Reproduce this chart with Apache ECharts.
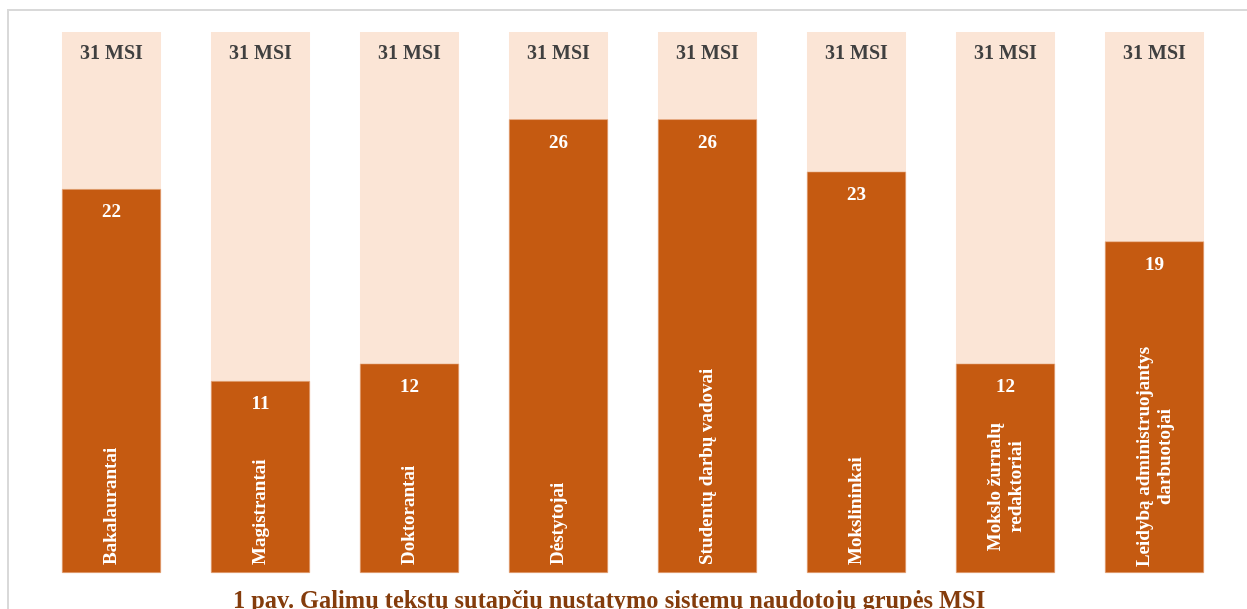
<!DOCTYPE html>
<html>
<head>
<meta charset="utf-8">
<script src="https://cdn.jsdelivr.net/npm/echarts@6/dist/echarts.min.js"></script>
<style>
  html, body { margin: 0; padding: 0; background: #ffffff; }
  #chart { width: 1247px; height: 609px; }
</style>
</head>
<body>
<div id="chart"></div>
<script>
const categories = [
  'Bakalaurantai',
  'Magistrantai',
  'Doktorantai',
  'Dėstytojai',
  'Studentų darbų vadovai',
  'Mokslininkai',
  'Mokslo žurnalų\nredaktoriai',
  'Leidybą administruojantys\ndarbuotojai'
];
const groupValues = [22, 11, 12, 26, 26, 23, 12, 19];
const totalMSI = [31, 31, 31, 31, 31, 31, 31, 31];
const titleText = '1 pav. Galimų tekstų sutapčių nustatymo sistemų naudotojų grupės MSI';

const serif = '"Liberation Serif", "DejaVu Serif", serif';

// label placement overrides for the two-line category names (centered lines)
const multiLineLabel = {
  6: { align: 'center', distance: 86 },
  7: { align: 'center', distance: 116 }
};

const chart = echarts.init(document.getElementById('chart'), null, { renderer: 'canvas' });

chart.setOption({
  animation: false,
  backgroundColor: '#ffffff',
  title: {
    text: titleText,
    left: 228,
    top: 585,
    textStyle: { fontFamily: serif, fontWeight: 'bold', fontSize: 24.4, color: '#843C0C' }
  },
  graphic: [{
    type: 'rect',
    z: -10,
    silent: true,
    shape: { x: 8, y: 10, width: 1300, height: 700 },
    style: { fill: 'none', stroke: '#d9d9d9', lineWidth: 2 }
  }],
  grid: { left: 37, right: 18, top: 32, bottom: 36 },
  xAxis: {
    type: 'category',
    data: categories,
    axisLine: { show: false },
    axisTick: { show: false },
    axisLabel: { show: false },
    splitLine: { show: false }
  },
  yAxis: {
    type: 'value',
    min: 0,
    max: 31,
    show: false
  },
  series: [
    {
      type: 'bar',
      data: totalMSI,
      barCategoryGap: '33.5%',
      barGap: '-100%',
      itemStyle: { color: '#FBE5D6' },
      silent: true,
      label: {
        show: true,
        position: 'insideTop',
        distance: 12,
        formatter: '{c} MSI',
        fontFamily: serif,
        fontWeight: 'bold',
        fontSize: 20,
        color: '#404040'
      }
    },
    {
      type: 'bar',
      data: groupValues,
      barCategoryGap: '33.5%',
      barGap: '-100%',
      itemStyle: { color: '#C55A11', borderColor: '#E9B48F', borderWidth: 0.6 },
      silent: true,
      label: {
        show: true,
        position: 'insideTop',
        distance: 14,
        fontFamily: serif,
        fontWeight: 'bold',
        fontSize: 19,
        color: '#ffffff'
      }
    },
    {
      type: 'bar',
      data: groupValues.map((v, i) => multiLineLabel[i]
        ? { value: v, label: multiLineLabel[i] }
        : v),
      barCategoryGap: '33.5%',
      barGap: '-100%',
      itemStyle: { color: 'rgba(0,0,0,0)' },
      silent: true,
      label: {
        show: true,
        position: 'insideBottom',
        rotate: 90,
        align: 'left',
        verticalAlign: 'middle',
        distance: 8,
        lineHeight: 21,
        formatter: '{b}',
        fontFamily: serif,
        fontWeight: 'bold',
        fontSize: 19,
        color: '#ffffff'
      }
    }
  ]
});
</script>
</body>
</html>
